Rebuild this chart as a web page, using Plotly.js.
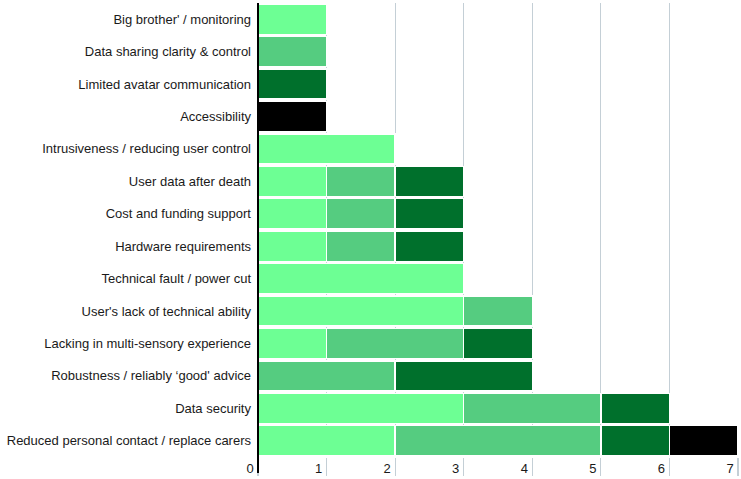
<!DOCTYPE html>
<html>
<head>
<meta charset="utf-8">
<script src="https://cdn.plot.ly/plotly-3.0.1.min.js"></script>
<style>
html,body{margin:0;padding:0;background:#fff;}
#chart{width:741px;height:479px;}
</style>
</head>
<body>
<div id="chart"></div>
<script>
var categories = [
  "Big brother' / monitoring",
  "Data sharing clarity & control",
  "Limited avatar communication",
  "Accessibility",
  "Intrusiveness / reducing user control",
  "User data after death",
  "Cost and funding support",
  "Hardware requirements",
  "Technical fault / power cut",
  "User's lack of technical ability",
  "Lacking in multi-sensory experience",
  "Robustness / reliably \u2018good' advice",
  "Data security",
  "Reduced personal contact / replace carers"
];
var seriesLight  = [1,0,0,0,2,1,1,1,3,3,1,0,3,2];
var seriesMedium = [0,1,0,0,0,1,1,1,0,1,2,2,2,3];
var seriesDark   = [0,0,1,0,0,1,1,1,0,0,1,2,1,1];
var seriesBlack  = [0,0,0,1,0,0,0,0,0,0,0,0,0,1];
var tickVals = [0,1,2,3,4,5,6,7];
var tickText = ["0","1","2","3","4","5","6","7"];

var colors = ["#6dff94", "#55cc80", "#00702c", "#000000"];
var series = [seriesLight, seriesMedium, seriesDark, seriesBlack];
var names = ["Light", "Medium", "Dark", "Black"];

var traces = series.map(function(vals, i){
  return {
    type: "bar",
    orientation: "h",
    y: categories,
    x: vals,
    name: names[i],
    marker: {color: colors[i], line: {color: "#ffffff", width: 1.5}},
    hoverinfo: "none"
  };
});

var layout = {
  width: 741,
  height: 479,
  margin: {l: 258, r: 3, t: 3, b: 22, pad: 0},
  paper_bgcolor: "#ffffff",
  plot_bgcolor: "#ffffff",
  barmode: "stack",
  bargap: 0.07,
  showlegend: false,
  font: {family: "Liberation Sans, Arial, sans-serif", size: 13, color: "#1a1a1a"},
  xaxis: {
    range: [0, 7],
    tickvals: tickVals,
    ticktext: tickText,
    showgrid: true,
    gridcolor: "#c4cfd6",
    gridwidth: 1.2,
    zeroline: false,
    showline: false,
    ticks: "outside",
    ticklen: 18,
    tickcolor: "#c4cfd6",
    tickwidth: 1.2,
    ticklabelshift: -8,
    ticklabelstandoff: -19,
    tickfont: {size: 13, color: "#1a1a1a"},
    fixedrange: true
  },
  yaxis: {
    type: "category",
    categoryorder: "array",
    categoryarray: categories,
    autorange: "reversed",
    showgrid: false,
    zeroline: false,
    showline: false,
    ticks: "",
    ticklabelstandoff: 6,
    tickfont: {size: 13, color: "#1a1a1a"},
    automargin: false,
    fixedrange: true
  },
  shapes: [
    {type: "line", xref: "paper", yref: "paper", x0: 0, x1: 0, y0: 1, y1: -0.035,
     line: {color: "#000000", width: 2}, layer: "above"}
  ]
};

Plotly.newPlot("chart", traces, layout, {displayModeBar: false, staticPlot: true});
</script>
</body>
</html>
